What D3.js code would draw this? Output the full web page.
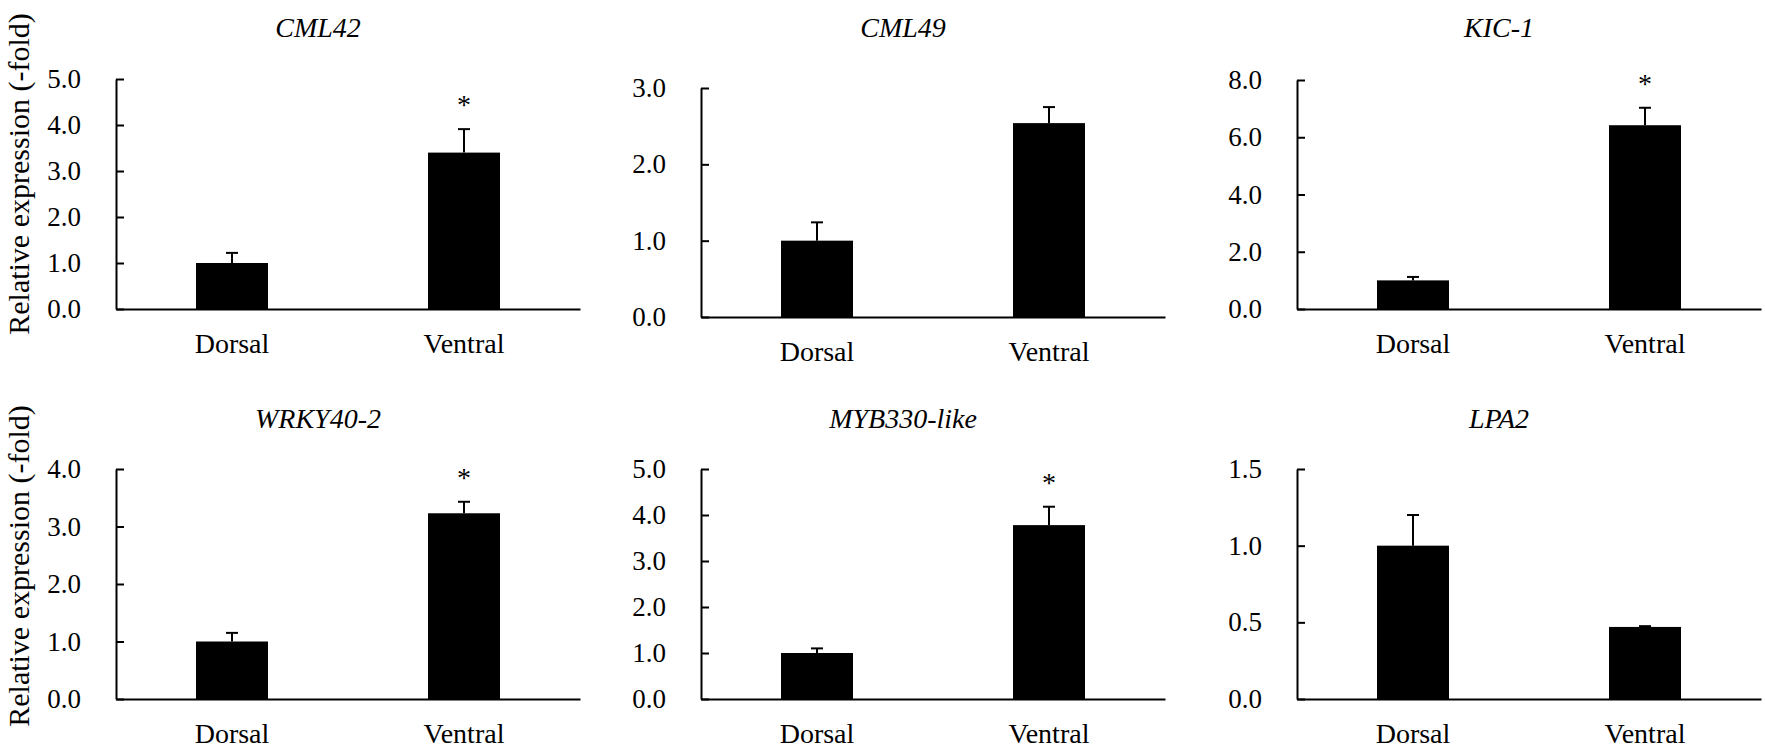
<!DOCTYPE html>
<meta charset="utf-8">
<script src="https://d3js.org/d3.v7.min.js"></script>
<style>
  body { margin: 0; background: #fff; }
  text { font-family: "Liberation Serif", "Times New Roman", serif; fill: #000; }
</style>
<div id="chart"></div>
<script>
// values
var genes = ["CML42", "CML49", "KIC-1", "WRKY40-2", "MYB330-like", "LPA2"];
var groups = ["Dorsal", "Ventral"];
var dorsalMean = [1.0, 1.0, 1.0, 1.0, 1.0, 1.0];
var dorsalErr = [0.22, 0.24, 0.12, 0.15, 0.10, 0.20];
var ventralMean = [3.40, 2.54, 6.42, 3.23, 3.78, 0.47];
var ventralErr = [0.51, 0.21, 0.61, 0.20, 0.40, 0.005];
var significant = [true, false, true, true, true, false];
var yMax = [5, 3, 8, 4, 5, 1.5];
var yStep = [1, 1, 2, 1, 1, 0.5];

// where each panel sits on the page (left of y axis, top, baseline)
var panels = [
  { left: 116, top: 79, bottom: 309 },
  { left: 701, top: 88, bottom: 317 },
  { left: 1297, top: 80, bottom: 309 },
  { left: 116, top: 469, bottom: 699 },
  { left: 701, top: 469, bottom: 699 },
  { left: 1297, top: 469, bottom: 699 }
];
var axisLen = 464, barW = 72, capW = 12;

var svg = d3.select("#chart").append("svg")
  .attr("width", 1765)
  .attr("height", 748);

genes.forEach(function (gene, i) {
  var p = panels[i];
  var g = svg.append("g").attr("transform", "translate(" + p.left + ",0)");

  var x = d3.scaleBand().domain(groups).range([0, axisLen])
    .paddingInner(0.69).paddingOuter(0.345);
  var y = d3.scaleLinear().domain([0, yMax[i]]).range([p.bottom, p.top]);

  var data = [
    { group: "Dorsal", mean: dorsalMean[i], err: dorsalErr[i], star: false },
    { group: "Ventral", mean: ventralMean[i], err: ventralErr[i], star: significant[i] }
  ];

  // bars
  g.selectAll("rect.bar").data(data).enter().append("rect")
    .attr("class", "bar")
    .attr("x", function (d) { return x(d.group) + x.bandwidth() / 2 - barW / 2; })
    .attr("width", barW)
    .attr("y", function (d) { return y(d.mean); })
    .attr("height", function (d) { return p.bottom - y(d.mean); })
    .attr("fill", "#000");

  // error bars (upper half only)
  var cx = function (d) { return x(d.group) + x.bandwidth() / 2; };
  g.selectAll("line.err").data(data).enter().append("line")
    .attr("x1", cx).attr("x2", cx)
    .attr("y1", function (d) { return y(d.mean); })
    .attr("y2", function (d) { return y(d.mean + d.err); })
    .attr("stroke", "#000").attr("stroke-width", 2);
  g.selectAll("line.cap").data(data).enter().append("line")
    .attr("x1", function (d) { return cx(d) - capW / 2; })
    .attr("x2", function (d) { return cx(d) + capW / 2; })
    .attr("y1", function (d) { return y(d.mean + d.err); })
    .attr("y2", function (d) { return y(d.mean + d.err); })
    .attr("stroke", "#000").attr("stroke-width", 2);

  // asterisks
  g.selectAll("text.star").data(data.filter(function (d) { return d.star; }))
    .enter().append("text")
    .attr("x", cx)
    .attr("y", function (d) { return y(d.mean + d.err) - 15; })
    .attr("text-anchor", "middle")
    .style("font-size", "28px")
    .text("*");

  // y axis, ticks pointing inward
  var ticks = d3.range(0, yMax[i] + yStep[i] / 2, yStep[i]);
  var yAxis = g.append("g")
    .call(d3.axisLeft(y).tickValues(ticks).tickFormat(d3.format(".1f"))
      .tickSizeInner(-8).tickSizeOuter(0).tickPadding(35));
  yAxis.select(".domain").attr("stroke-width", 2);
  yAxis.selectAll(".tick line").attr("stroke-width", 2);
  yAxis.selectAll("text").style("font-size", "27px").attr("fill", "#000");

  // x axis
  var xAxis = g.append("g")
    .attr("transform", "translate(0," + p.bottom + ")")
    .call(d3.axisBottom(x).tickSize(0).tickPadding(0));
  xAxis.select(".domain").attr("stroke-width", 2);
  xAxis.selectAll("text").attr("dy", 0).attr("y", 44)
    .style("font-size", "28px").attr("fill", "#000");

  // gene name
  g.append("text")
    .attr("x", 202)
    .attr("y", i < 3 ? 37 : 428)
    .attr("text-anchor", "middle")
    .style("font-size", "28px")
    .style("font-style", "italic")
    .text(gene);
});

// shared y labels
[174, 566].forEach(function (cy) {
  svg.append("text")
    .attr("transform", "translate(29," + cy + ") rotate(-90)")
    .attr("text-anchor", "middle")
    .style("font-size", "30px")
    .text("Relative expression (-fold)");
});
</script>
